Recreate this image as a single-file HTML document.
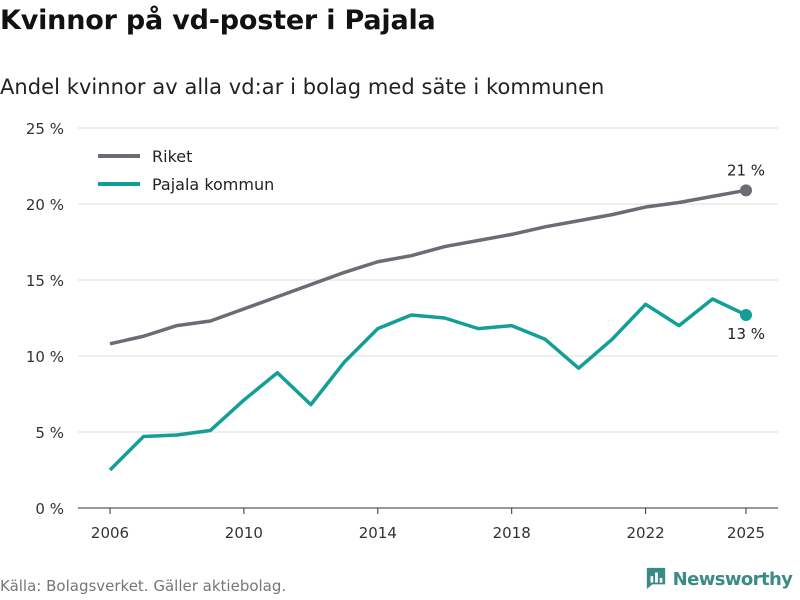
<!DOCTYPE html>
<html><head><meta charset="utf-8"><style>
body{margin:0;width:800px;height:600px;background:#fff;font-family:"DejaVu Sans","Liberation Sans",sans-serif;overflow:hidden;position:relative}
#title{position:absolute;left:0;top:5px;font-size:27px;font-weight:bold;color:#111;letter-spacing:-0.2px}
#sub{position:absolute;left:0;top:75px;font-size:21px;color:#222;letter-spacing:0.05px}
#src{position:absolute;left:0;top:577px;font-size:15px;color:#777}
#logo{position:absolute;left:645px;top:569px;font-size:18px;font-weight:bold;color:#3a8a86;white-space:nowrap;letter-spacing:-0.6px}
svg#chart{position:absolute;left:0;top:0}
</style></head><body>
<div id="title">Kvinnor på vd-poster i Pajala</div>
<div id="sub">Andel kvinnor av alla vd:ar i bolag med säte i kommunen</div>
<div id="src">Källa: Bolagsverket. Gäller aktiebolag.</div>
<div id="logo"><svg width="22" height="24" style="vertical-align:middle;margin-top:-4px" viewBox="0 0 24 26"><path d="M2 2h20v18h-14l-6 5z" fill="#3a8a86"/><rect x="6" y="11" width="3" height="7" fill="#fff"/><rect x="11" y="7" width="3" height="11" fill="#fff"/><rect x="16" y="13" width="3" height="5" fill="#fff"/></svg> Newsworthy</div>
<svg id="chart" width="800" height="600"></svg>
<script>
const years=[2006,2007,2008,2009,2010,2011,2012,2013,2014,2015,2016,2017,2018,2019,2020,2021,2022,2023,2024,2025];
const riket=[10.8,11.3,12.0,12.3,13.1,13.9,14.7,15.5,16.2,16.6,17.2,17.6,18.0,18.5,18.9,19.3,19.8,20.1,20.5,20.9];
const pajala=[2.5,4.7,4.8,5.1,7.1,8.9,6.8,9.6,11.8,12.7,12.5,11.8,12.0,11.1,9.2,11.1,13.4,12.0,13.75,12.7];
const yTicks=[0,5,10,15,20,25];
const xTicks=[2006,2010,2014,2018,2022,2025];
const NS="http://www.w3.org/2000/svg",svg=document.getElementById('chart');
const x=v=>110+(v-2006)*(746-110)/19, y=v=>508-v*15.2;
function mk(t,a,txt){const e=document.createElementNS(NS,t);for(const k in a)e.setAttribute(k,a[k]);if(txt!=null)e.textContent=txt;svg.appendChild(e);return e;}
yTicks.forEach(t=>{
 const g=mk('line',{x1:78,x2:778,y1:y(t),y2:y(t),stroke:t?'#ddd':'#333','stroke-width':1});
 
 
 const l=mk('text',{x:64,y:y(t)+6,'text-anchor':'end','font-size':15,fill:'#333'},t+' %');
 
 
});
xTicks.forEach(t=>{
 const tk=mk('line',{x1:x(t),x2:x(t),y1:508,y2:514,stroke:'#333'});
 
 
 const l=mk('text',{x:x(t),y:538,'text-anchor':'middle','font-size':15,fill:'#333'},t);
 
 
});
function series(vals,col,name){
 const p=mk('polyline',{points:vals.map((v,i)=>x(years[i])+','+y(v)).join(' '),fill:'none',stroke:col,'stroke-width':3.5,'stroke-linejoin':'round'});
 
 
 const n=vals.length-1;
 const c=mk('circle',{cx:x(years[n]),cy:y(vals[n]),r:6,fill:col});
 
 
}
series(riket,'#6d6b73','riket');
series(pajala,'#139f97','pajala');
const a=mk('text',{x:x(2025),y:y(riket[19])-15,'text-anchor':'middle','font-size':15,fill:'#222'},Math.round(riket[19])+' %');


const b=mk('text',{x:x(2025),y:y(pajala[19])+24,'text-anchor':'middle','font-size':15,fill:'#222'},Math.round(pajala[19])+' %');


[['Riket','#6d6b73',156],['Pajala kommun','#139f97',184]].forEach(([t,c,yy])=>{
 const l=mk('line',{x1:98,x2:140,y1:yy,y2:yy,stroke:c,'stroke-width':4});
 
 
 const tx=mk('text',{x:152,y:yy+6,'font-size':16,fill:'#222'},t);
 
 
});
</script>
</body></html>
